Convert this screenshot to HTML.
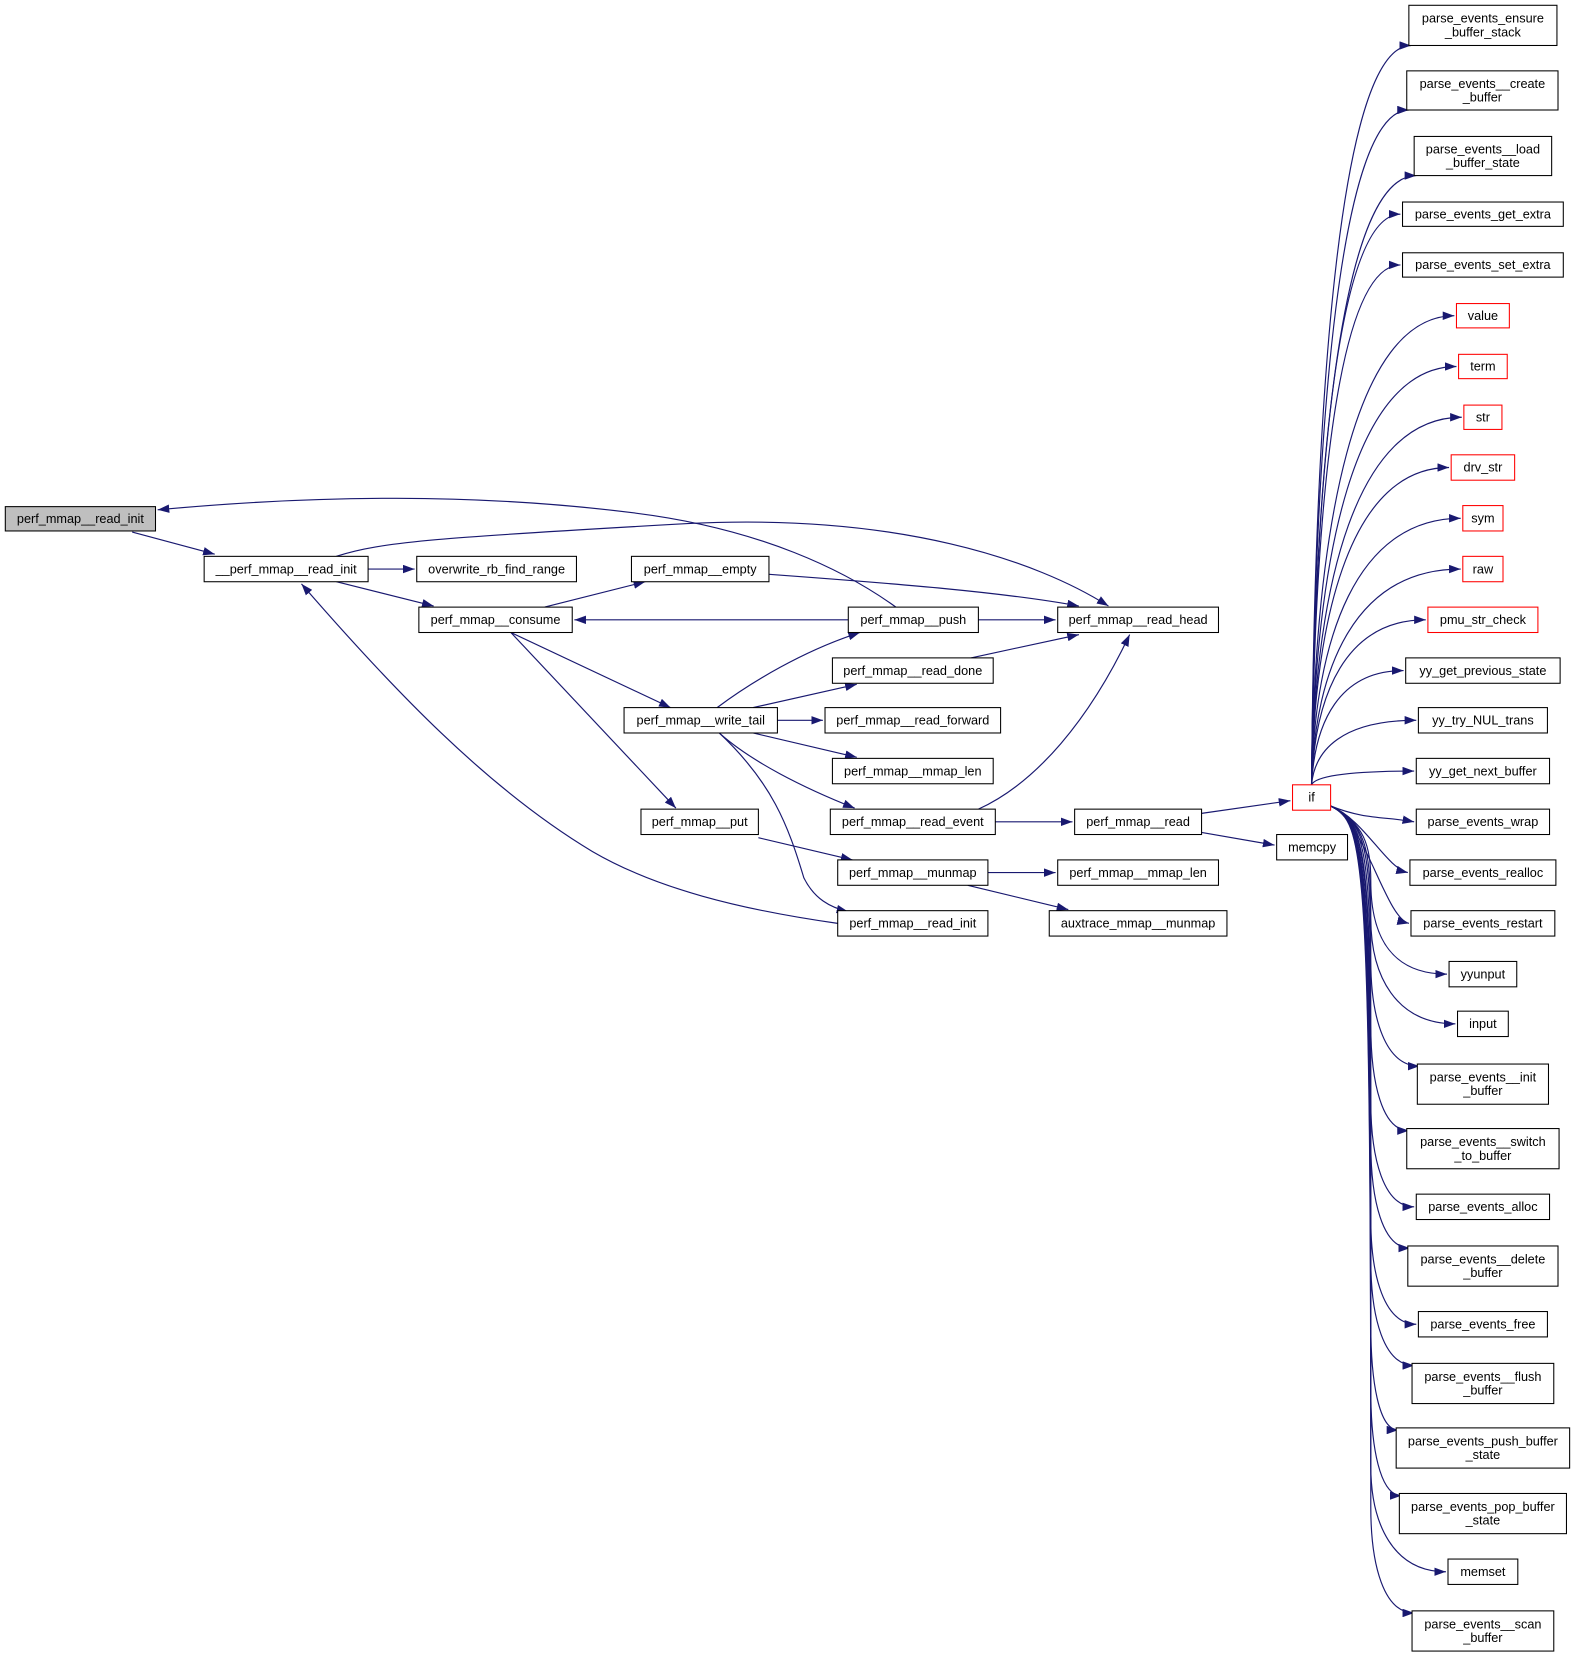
<!DOCTYPE html>
<html><head><meta charset="utf-8"><style>
html,body{margin:0;padding:0;background:#fff}
svg{display:block}
text{font-family:"Liberation Sans",Helvetica,sans-serif;font-size:12px;fill:#000}
</style></head><body>
<svg id="g" width="1576" height="1659" viewBox="0 0 1490 1568.5" xmlns="http://www.w3.org/2000/svg">
<defs><marker id="a" viewBox="0 0 11 8" refX="11" refY="4" markerWidth="11" markerHeight="8" markerUnits="userSpaceOnUse" orient="auto"><path d="M0,0 L11,4 L0,8 z" fill="#191970"/></marker></defs>
<rect width="1490" height="1569" fill="#fff"/>
<g id="e" fill="none" stroke="#191970" stroke-width="1.1"></g>
<g id="n"></g>
</svg>
<script>
var NS="http://www.w3.org/2000/svg";
var E=document.getElementById('e'),N=document.getElementById('n');
function path(d){var p=document.createElementNS(NS,'path');p.setAttribute('d',d);p.setAttribute('marker-end','url(#a)');E.appendChild(p);}
function node(x1,y1,x2,y2,lbl,opt){
 var r=document.createElementNS(NS,'rect');r.setAttribute('x',x1);r.setAttribute('y',y1);r.setAttribute('width',x2-x1);r.setAttribute('height',y2-y1);
 r.setAttribute('fill',opt=='g'?'#bfbfbf':'#fff');r.setAttribute('stroke',opt=='r'?'#ff0000':'#000');r.setAttribute('stroke-width','1');N.appendChild(r);
 var lines=lbl.split('|');var cx=(x1+x2)/2,cy=(y1+y2)/2;
 lines.forEach(function(l,i){var t=document.createElementNS(NS,'text');t.setAttribute('x',cx);t.setAttribute('y',cy+4+(i-(lines.length-1)/2)*13);t.setAttribute('text-anchor','middle');t.textContent=l;N.appendChild(t);});
}
[
"M125,503 L203,524",
"M348,538 L392,538",
"M318,550 L410,573",
"M515,574 L610,550",
"M483,598 L634,669",
"M483,598 L639,764",
"M727,543 C850,552 950,560 1020,573",
"M802,586 L543,586",
"M925,586 L998,586",
"M847,574 C800,540 720,500 600,485 C450,466 300,468 149,482",
"M318,526 C360,512 420,508 650,495 C850,485 980,530 1048,573",
"M918,622 L1020,600",
"M678,669 C710,645 760,615 813,598",
"M712,669 L810,647",
"M735,681 L778,681",
"M712,693 L810,716",
"M680,693 C710,720 760,745 808,764",
"M680,693 C730,740 745,780 760,830 C770,850 785,858 802,862",
"M925,765 C980,740 1030,680 1068,600",
"M941,777 L1014,777",
"M717,792 L806,813",
"M934,825 L998,825",
"M915,837 L1010,860",
"M792,873 C700,860 620,840 560,805 C460,745 370,650 285,552",
"M1136,769 L1220,757",
"M1136,787 L1205,799"
].forEach(path);
var L=[
[5,479,147,502,"perf_mmap__read_init","g"],
[193,526,348,550,"__perf_mmap__read_init"],
[394,526,545,550,"overwrite_rb_find_range"],
[396,574,541,598,"perf_mmap__consume"],
[597,526,727,550,"perf_mmap__empty"],
[802,574,925,598,"perf_mmap__push"],
[1000,574,1152,598,"perf_mmap__read_head"],
[787,622,939,646,"perf_mmap__read_done"],
[590,669,735,693,"perf_mmap__write_tail"],
[780,669,946,693,"perf_mmap__read_forward"],
[787,717,939,741,"perf_mmap__mmap_len"],
[785,765,941,789,"perf_mmap__read_event"],
[606,765,717,789,"perf_mmap__put"],
[792,813,934,837,"perf_mmap__munmap"],
[792,861,934,885,"perf_mmap__read_init"],
[1016,765,1136,789,"perf_mmap__read"],
[1207,789,1274,813,"memcpy"],
[1000,813,1152,837,"perf_mmap__mmap_len"],
[992,861,1160,885,"auxtrace_mmap__munmap"],
[1222,742,1258,766,"if","r"]
];
var R=[
[1332,5,1472,43,"parse_events_ensure|_buffer_stack"],
[1330,67,1473,104,"parse_events__create|_buffer"],
[1337,129,1467,166,"parse_events__load|_buffer_state"],
[1326,191,1478,214,"parse_events_get_extra"],
[1326,239,1478,262,"parse_events_set_extra"],
[1377,287,1427,310,"value","r"],
[1379,335,1425,358,"term","r"],
[1384,383,1420,406,"str","r"],
[1372,430,1432,454,"drv_str","r"],
[1383,478,1421,502,"sym","r"],
[1383,526,1421,550,"raw","r"],
[1350,574,1454,598,"pmu_str_check","r"],
[1329,622,1475,646,"yy_get_previous_state"],
[1341,669,1463,693,"yy_try_NUL_trans"],
[1339,717,1465,741,"yy_get_next_buffer"],
[1339,765,1465,789,"parse_events_wrap"],
[1333,813,1471,837,"parse_events_realloc"],
[1334,861,1470,885,"parse_events_restart"],
[1370,909,1434,933,"yyunput"],
[1378,956,1426,980,"input"],
[1340,1006,1464,1044,"parse_events__init|_buffer"],
[1330,1067,1474,1105,"parse_events__switch|_to_buffer"],
[1339,1129,1465,1153,"parse_events_alloc"],
[1331,1178,1473,1216,"parse_events__delete|_buffer"],
[1341,1240,1463,1264,"parse_events_free"],
[1335,1289,1469,1327,"parse_events__flush|_buffer"],
[1320,1350,1484,1388,"parse_events_push_buffer|_state"],
[1323,1412,1481,1450,"parse_events_pop_buffer|_state"],
[1369,1474,1435,1498,"memset"],
[1335,1523,1469,1561,"parse_events__scan|_buffer"]
];
R.forEach(function(r){
 var ty=(r[1]+r[3])/2, tx=r[0], two=r[3]-r[1]>30;
 if(Math.abs(ty-754)<20){path("M1258,"+(ty<754?748:760)+" L"+(tx-2)+","+ty);return;}
 if(ty<754){
  var sx=1240,sy=742,ex=two?tx+2:tx-2,ey=two?r[3]:ty;
  path("M"+sx+","+sy+" C"+(sx+3)+","+(sy-(sy-ey)*0.55)+" "+(sx+(ex-sx)*0.3)+","+ey+" "+ex+","+ey);
 } else if(ty<900){
  var ex=tx-2,ey=ty;
  path("M1258,762 C1290,775 1310,"+(ey-5)+" "+ex+","+ey);
 } else {
  var ex=two?tx+2:tx-2,ey=two?r[1]+2:ty;
  var mx=1296, my=ey-Math.min(60,(ey-762)*0.3);
  path("M1258,762 C1290,778 "+mx+",800 "+mx+","+(my-40)+" C"+mx+","+(my+15)+" "+(mx+(ex-mx)*0.3)+","+ey+" "+ex+","+ey);
 }
});
L.concat(R).forEach(function(r){node(r[0],r[1],r[2],r[3],r[4],r[5]);});
</script>
</body></html>
